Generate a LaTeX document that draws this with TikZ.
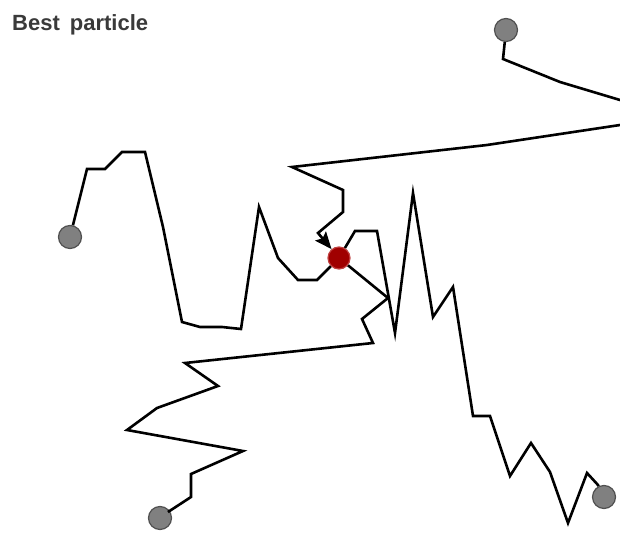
\documentclass[tikz,border=0pt]{standalone}
\usepackage{fontspec}
\setmainfont{Liberation Sans}
\usetikzlibrary{arrows.meta}
\definecolor{pgray}{HTML}{808080}
\definecolor{pgrayd}{HTML}{505050}
\definecolor{bestred}{HTML}{A00000}
\definecolor{bestredd}{HTML}{C04040}
\definecolor{txtgray}{HTML}{3A3A3A}
\tikzset{
  particle/.style={circle, fill=pgray, draw=pgrayd, line width=1.2pt, minimum size=23pt, inner sep=0pt},
  bestp/.style={circle, fill=bestred, draw=bestredd, line width=1.2pt, minimum size=22pt, inner sep=0pt},
  trail/.style={line width=2.6pt, black, line join=miter},
}
\begin{document}
\begin{tikzpicture}[x=1pt,y=-1pt]
\clip (0,0) rectangle (620,534);
\fill[white] (0,0) rectangle (620,534);
\node[anchor=base west, text=txtgray, font=\bfseries\fontsize{22}{24}\selectfont, inner sep=0pt] (title) at (12,31) {Best\hspace{10pt}particle};
\node[bestp] (best) at (339,258) {};
\node[particle] (p1) at (506,30) {};
\node[particle] (p2) at (70,237) {};
\node[particle] (p3) at (604,497) {};
\node[particle] (p4) at (160,518) {};
% trail of particle 1 (ends with arrow at best)
\draw[trail, -{Stealth[length=17pt,width=14pt,inset=3pt]}] (p1) -- (503,59) -- (560,82) -- (640,106) -- (640,122) -- (487,145) -- (292,167) -- (343,190) -- (343,212) -- (318,233) -- (best);
% trail of particle 2
\draw[trail] (p2) -- (87,169) -- (105,169) -- (122,152) -- (145,152) -- (163,227) -- (182,322) -- (200,327) -- (222,327) -- (241,329) -- (259,207) -- (278,258) -- (298,280) -- (317,280) -- (best);
% trail of particle 3
\draw[trail] (best) -- (355,231) -- (377,231) -- (395,333) -- (413,193) -- (433,317) -- (453,287) -- (473,416) -- (490,416) -- (510,476) -- (531,443) -- (550,472) -- (568,523) -- (587,473) -- (598,485) -- (p3);
% trail of particle 4
\draw[trail] (best) -- (388,298) -- (362,319) -- (373,343) -- (185,363) -- (218,386) -- (157,408) -- (127,430) -- (243,451) -- (191,474) -- (191,497) -- (168,512) -- (p4);
\end{tikzpicture}
\end{document}
